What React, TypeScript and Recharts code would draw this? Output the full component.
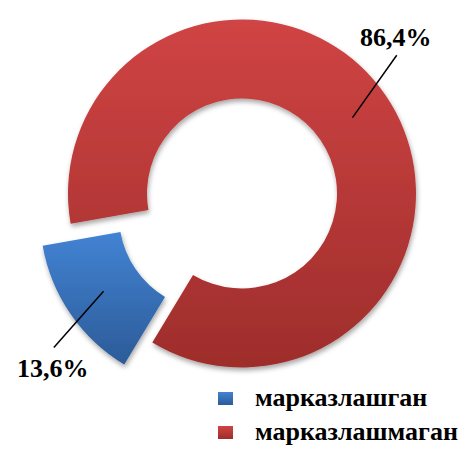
import { PieChart, Pie, Cell, Legend } from 'recharts';

const categories = ['марказлашган', 'марказлашмаган'];
const shares = [13.6, 86.4];
const colorsTop = ['#4283D3', '#D04444'];
const colorsBottom = ['#2C5B98', '#9E2D2B'];

const data = categories.map((name, i) => ({ name, value: shares[i] }));

const RAD = Math.PI / 180;
const serif = '"Liberation Serif", "Times New Roman", serif';
// extra angle for the outer end of each leader line
const leaderTilt = [5, 7.3];

function renderLabel(visibleIndex: number) {
  return (props: any) => {
    const { cx, cy, midAngle, index, value } = props;
    if (index !== visibleIndex) return null;
    const r1 = 134;
    const r2 = 207.5;
    const a2 = midAngle + leaderTilt[index];
    const x1 = cx + r1 * Math.cos(midAngle * RAD);
    const y1 = cy - r1 * Math.sin(midAngle * RAD);
    const x2 = cx + r2 * Math.cos(a2 * RAD);
    const y2 = cy - r2 * Math.sin(a2 * RAD);
    const below = y2 > cy;
    return (
      <g>
        <line x1={x1} y1={y1} x2={x2} y2={y2} stroke="#000" strokeWidth={1.5} />
        <text
          x={x2 - 1}
          y={below ? y2 + 30 : y2 - 9}
          textAnchor="middle"
          style={{ fontFamily: serif, fontWeight: 700, fontSize: 26 }}
          fill="#000"
        >
          {String(value.toFixed(1)).replace('.', ',') + '%'}
        </text>
      </g>
    );
  };
}

function LegendBox() {
  return (
    <div>
      {categories.map((c, i) => (
        <div key={c} style={{ display: 'flex', alignItems: 'center', height: 34 }}>
          <div
            style={{
              width: 15,
              height: 13,
              background: `linear-gradient(${colorsTop[i]}, ${colorsBottom[i]})`,
              marginRight: 22,
            }}
          />
          <span style={{ fontFamily: serif, fontWeight: 700, fontSize: 26, color: '#000' }}>{c}</span>
        </div>
      ))}
    </div>
  );
}

export default function App() {
  return (
    <div style={{ position: 'absolute', left: 0, top: 0, background: '#fff' }}>
      <PieChart width={465} height={450}>
        <defs>
          {categories.map((c, i) => (
            <linearGradient key={c} id={`grad${i}`} x1="0" y1="0" x2="0" y2="1">
              <stop offset="0%" stopColor={colorsTop[i]} />
              <stop offset="100%" stopColor={colorsBottom[i]} />
            </linearGradient>
          ))}
          <filter id="shadow" x="-10%" y="-10%" width="125%" height="125%">
            <feDropShadow dx={1} dy={3} stdDeviation={2.5} floodColor="#000" floodOpacity={0.35} />
          </filter>
        </defs>
        {/* main ring: only the red slice visible */}
        <Pie
          data={data}
          dataKey="value"
          cx={237}
          cy={188.5}
          innerRadius={95}
          outerRadius={174}
          startAngle={190}
          endAngle={550}
          stroke="none"
          isAnimationActive={false}
          labelLine={false}
          label={renderLabel(1)}
        >
          <Cell fill="transparent" />
          <Cell fill="url(#grad1)" filter="url(#shadow)" />
        </Pie>
        {/* exploded blue slice */}
        <Pie
          data={data}
          dataKey="value"
          cx={209}
          cy={210.5}
          innerRadius={95}
          outerRadius={174}
          startAngle={190}
          endAngle={550}
          stroke="none"
          isAnimationActive={false}
          labelLine={false}
          label={renderLabel(0)}
        >
          <Cell fill="url(#grad0)" filter="url(#shadow)" />
          <Cell fill="transparent" />
        </Pie>
        <Legend
          content={<LegendBox />}
          wrapperStyle={{ position: 'absolute', left: 218, top: 381, width: 'auto' }}
        />
      </PieChart>
    </div>
  );
}
